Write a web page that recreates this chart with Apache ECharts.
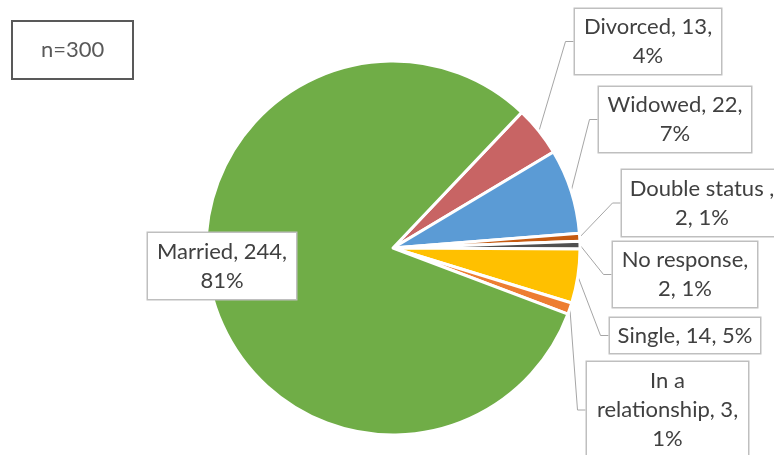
<!DOCTYPE html>
<html>
<head>
<meta charset="utf-8">
<script src="https://cdn.jsdelivr.net/npm/echarts@6/dist/echarts.min.js"></script>
<style>
  html, body { margin: 0; padding: 0; background: #fff; }
  #main { width: 774px; height: 455px; }
</style>
</head>
<body>
<div id="main"></div>
<script>
// 数据
const categories = ['Divorced', 'Widowed', 'Double status ', 'No response', 'Single', 'In a relationship', 'Married'];
const counts = [13, 22, 2, 2, 14, 3, 244];
const sampleNote = 'n=300';

// 颜色（与分类顺序一致）
const colors = ['#C86464', '#5B9BD5', '#C55A11', '#505050', '#FFC000', '#ED7D31', '#70AD47'];

// 标签框位置（中心点）、大小、换行模板
const boxes = [
    {cx: 648, cy: 41.5, w: 146, h: 65, fmt: '{b}, {c},\n{p}%'},
    {cx: 675, cy: 119.5, w: 152, h: 65, fmt: '{b}, {c},\n{p}%'},
    {cx: 702, cy: 203, w: 160, h: 66, fmt: '{b}, {c},\n{p}%'},
    {cx: 685, cy: 274.5, w: 144, h: 65, fmt: '{b},\n{c}, {p}%'},
    {cx: 685, cy: 335.5, w: 150, h: 35, fmt: '{b}, {c}, {p}%'},
    {cx: 667.5, cy: 410, w: 161, h: 96, fmt: '{b}, {c},\n{p}%', breakName: true},
    {cx: 222, cy: 266, w: 148, h: 66, fmt: '{b}, {c},\n{p}%', noLine: true}
];
// Double status: "Double status ,\n2, 1%"
boxes[2].fmt = '{b},\n{c}, {p}%';

const LH = 29;
const total = counts.reduce((a, b) => a + b, 0);

const seriesData = categories.map((name, i) => {
    const box = boxes[i];
    const lines = box.fmt.split('\n').length + (box.breakName ? 1 : 0);
    const pad = (box.h - lines * LH) / 2;
    return {
        name: name,
        value: counts[i],
        itemStyle: {color: colors[i]},
        label: {width: box.w, padding: [pad, 0, pad, 0]},
        labelLine: {show: !box.noLine}
    };
});

const myChart = echarts.init(document.getElementById('main'), null, {renderer: 'canvas'});

const option = {
    backgroundColor: '#fff',
    animation: false,
    title: {
        text: sampleNote,
        left: 12,
        top: 21,
        padding: [15, 29],
        borderColor: '#595959',
        borderWidth: 2,
        textStyle: {
            fontFamily: 'Lato',
            fontSize: 22,
            fontWeight: 'normal',
            color: '#595959',
            lineHeight: 28
        }
    },
    series: [{
        type: 'pie',
        center: [393, 248],
        radius: 187,
        startAngle: 46.5,
        clockwise: true,
        avoidLabelOverlap: false,
        itemStyle: {
            borderColor: '#fff',
            borderWidth: 3
        },
        label: {
            show: true,
            position: 'outside',
            color: '#404040',
            fontFamily: 'Lato',
            fontSize: 22,
            lineHeight: LH,
            align: 'center',
            backgroundColor: '#fff',
            borderColor: '#BFBFBF',
            borderWidth: 1.5,
            formatter: function (p) {
                const box = boxes[p.dataIndex];
                let name = p.name;
                if (box.breakName) {
                    const k = name.lastIndexOf(' ');
                    name = name.slice(0, k) + '\n' + name.slice(k + 1);
                }
                const pct = Math.round(p.value / total * 100);
                return box.fmt.replace('{b}', name).replace('{c}', p.value).replace('{p}', pct);
            }
        },
        labelLine: {
            show: true,
            length: 10,
            length2: 8,
            smooth: false,
            lineStyle: {color: '#A6A6A6', width: 1}
        },
        labelLayout: function (params) {
            const box = boxes[params.dataIndex];
            return {
                x: box.cx,
                y: box.cy,
                align: 'center',
                verticalAlign: 'middle'
            };
        },
        emphasis: {disabled: true},
        data: seriesData
    }]
};

myChart.setOption(option);
</script>
</body>
</html>
